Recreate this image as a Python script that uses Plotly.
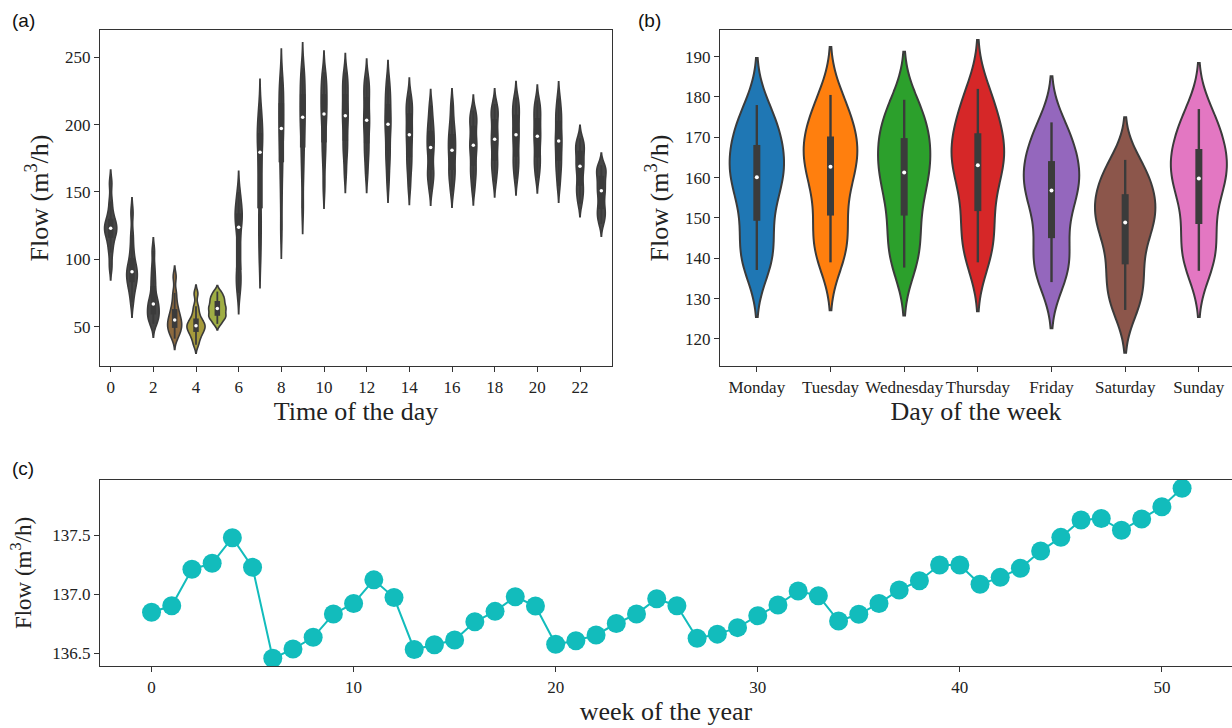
import numpy as np
import plotly.graph_objects as go

# ---------------- data ----------------
hours = list(range(24))
# 13 quantile-like flow values per hour (min ... q1 ... median ... q3 ... max)
hour_samples = [
    [94.5, 105, 111, 116, 119, 121, 123, 125, 127, 130, 135, 143, 156.5],
    [68, 76, 80, 83, 86, 88.5, 90.7, 93, 96, 101, 108, 118, 134.5],
    [52, 55, 57, 59, 62, 64.5, 66.7, 69, 73, 80, 86, 94, 106],
    [41, 45, 47, 49, 51, 53, 54.8, 57, 60, 63, 68, 75, 87],
    [36.5, 41, 44, 46, 48, 49.5, 50.6, 52, 54, 56, 60, 65, 74.5],
    [52, 55, 57, 58, 60, 62, 63.5, 65, 67, 69, 71, 73, 76],
    [75, 82, 87, 92, 103, 115, 123.7, 128, 131, 134, 138, 143, 150],
    [101, 115, 127, 137.8, 155, 170, 179.4, 184, 189, 193.8, 198, 204, 211.5],
    [121.5, 145, 162, 172, 183, 191, 197.2, 203, 209, 216, 222, 228, 235.5],
    [138, 160, 174, 183, 193, 200, 205.4, 211, 217, 222.7, 229, 235, 242],
    [153.6, 170, 181, 186.8, 196, 203, 207.9, 213, 218, 222.7, 228, 233, 239],
    [163.8, 176, 183, 188, 196, 202, 206.6, 211, 217, 222.7, 228, 233, 238.7],
    [163.3, 174, 181, 186.1, 194, 199, 203.2, 208, 214, 220.3, 225, 230, 235.1],
    [156.6, 168, 176, 181.1, 189, 195, 200.2, 204, 209, 215.3, 220, 226, 233.4],
    [153.7, 164, 171, 175.7, 182, 188, 192.5, 197, 202, 208.4, 212, 216, 221.7],
    [151.9, 159, 163, 166.3, 173, 179, 183.1, 187, 191, 195.5, 200, 206, 214.4],
    [150.4, 158, 163, 166.3, 172, 177, 180.9, 185, 189, 193, 198, 205, 214.9],
    [151.8, 160, 165, 169.5, 176, 181, 184.6, 188, 193, 199.2, 203, 206, 210.5],
    [157.6, 165, 170, 173.2, 180, 185, 189.1, 193, 198, 204.2, 208, 211, 215.3],
    [159.7, 167, 172, 176.2, 183, 188, 192.5, 197, 202, 207.4, 211, 215, 220.2],
    [160.5, 167, 172, 175.7, 182, 187, 191.3, 195, 200, 204.9, 209, 213, 218.1],
    [154.5, 163, 169, 173.2, 179, 184, 187.8, 192, 197, 202.9, 207, 212, 219.6],
    [141.2, 147, 151, 154.6, 160, 165, 169, 172, 176, 180.6, 183, 186, 189.9],
    [126.2, 131, 134, 137.3, 142, 147, 150.9, 154, 158, 162, 165, 167.5, 169.9],
]
hour_tick_labels = [str(h) for h in range(0, 24, 2)]

days = ["Monday", "Tuesday", "Wednesday", "Thursday", "Friday", "Saturday", "Sunday"]
day_samples = [
    [137.1, 140.5, 144.5, 149.3, 154.5, 158, 160.1, 162.5, 165, 168.1, 170.5, 173.5, 178],
    [139, 142.5, 146.5, 150.6, 156, 160, 162.7, 165, 167.5, 170.2, 172.5, 176, 180.5],
    [137.7, 141.5, 146, 150.6, 155.5, 159, 161.3, 164, 167, 169.8, 172, 175.5, 179.3],
    [139, 143, 147.5, 151.7, 157, 161, 163.1, 165.5, 168, 171, 173.5, 177.5, 182],
    [134.1, 137.5, 141, 145, 150.5, 154.5, 156.8, 159, 161.5, 164.1, 166.5, 170, 173.7],
    [127.2, 131, 135, 138.5, 143.5, 147, 148.9, 151, 153.5, 155.9, 158, 161, 164.4],
    [136.9, 140.5, 144.5, 148.5, 154, 157.5, 159.8, 162, 164.5, 167.1, 169.5, 173, 177],
]

weeks = list(range(52))
week_flow = [
    136.845, 136.90, 137.21, 137.26, 137.477, 137.226, 136.455, 136.534, 136.633, 136.83,
    136.92, 137.12, 136.97, 136.53, 136.57, 136.61, 136.765, 136.853, 136.977, 136.898,
    136.574, 136.604, 136.653, 136.75, 136.83, 136.96, 136.90, 136.625, 136.66, 136.715,
    136.816, 136.907, 137.025, 136.986, 136.771, 136.828, 136.92, 137.034, 137.113, 137.246,
    137.246, 137.082, 137.141, 137.218, 137.364, 137.48, 137.627, 137.64, 137.54, 137.636,
    137.74, 137.896,
]

N_DAYS_PER_HOUR = 365   # observations behind each hourly violin
N_WEEKS_PER_DAY = 52    # observations behind each weekday violin

# ---------------- helpers ----------------
DARK = "#3b3b3b"
SERIF = "Liberation Serif"


def box_stats(s):
    s = np.sort(np.asarray(s, float))
    q1, med, q3 = np.percentile(s, [25, 50, 75])
    iqr = q3 - q1
    lo = s[s >= q1 - 1.5 * iqr].min()
    hi = s[s <= q3 + 1.5 * iqr].max()
    return lo, q1, med, q3, hi


def scott_bw(s, n):
    return float(np.std(s, ddof=1) * n ** -0.2)


def kde_peak(s, bw):
    s = np.asarray(s, float)
    g = np.linspace(s.min() - 3 * bw, s.max() + 3 * bw, 800)
    d = np.exp(-0.5 * ((g[:, None] - s[None, :]) / bw) ** 2).sum(1)
    return float(d.max() / (len(s) * bw * np.sqrt(2 * np.pi)))


def area_widths(samples, n, full=0.8):
    # seaborn-like "area" scaling: widest density gets the full width
    peaks = [kde_peak(s, scott_bw(s, n)) for s in samples]
    m = max(peaks)
    return [full * p / m for p in peaks]


# fills of the hourly violins: almost all hidden under the dark outline,
# only the widest ones (3-5 h) show some colour
hour_colors = ["#474747"] * 24
hour_colors[3] = "#8d6a3f"
hour_colors[4] = "#a59a3c"
hour_colors[5] = "#9fae45"
day_colors = ["#1f77b4", "#ff7f0e", "#2ca02c", "#d62728", "#9467bd", "#8c564b", "#e377c2"]

fig = go.Figure()


def add_inner(xs, samples, xa, ya, whisk_w, box_w, dot_size):
    wx, wy, bx, by, mx, my = [], [], [], [], [], []
    for x, s in zip(xs, samples):
        lo, q1, med, q3, hi = box_stats(s)
        wx += [x, x, None]
        wy += [lo, hi, None]
        bx += [x, x, None]
        by += [q1, q3, None]
        mx.append(x)
        my.append(med)
    fig.add_trace(go.Scatter(x=wx, y=wy, mode="lines", line=dict(color=DARK, width=whisk_w),
                             xaxis=xa, yaxis=ya, hoverinfo="skip", showlegend=False))
    fig.add_trace(go.Scatter(x=bx, y=by, mode="lines", line=dict(color=DARK, width=box_w),
                             xaxis=xa, yaxis=ya, hoverinfo="skip", showlegend=False))
    fig.add_trace(go.Scatter(x=mx, y=my, mode="markers",
                             marker=dict(color="white", size=dot_size, line=dict(width=0)),
                             xaxis=xa, yaxis=ya, hoverinfo="skip", showlegend=False))


# ---------------- (a) hour of day ----------------
hour_widths = area_widths(hour_samples, N_DAYS_PER_HOUR, 0.85)
for h, s, c, w in zip(hours, hour_samples, hour_colors, hour_widths):
    fig.add_trace(go.Violin(
        x0=h, y=s, xaxis="x", yaxis="y", width=w, scalemode="width",
        bandwidth=scott_bw(s, N_DAYS_PER_HOUR), spanmode="soft", points=False,
        fillcolor=c, line=dict(color=DARK, width=1.6), opacity=1,
        showlegend=False, hoverinfo="skip"))
add_inner(hours, hour_samples, "x", "y", 1.8, 5.5, 3.5)

# ---------------- (b) day of week ----------------
day_widths = area_widths(day_samples, N_WEEKS_PER_DAY, 0.82)
for d, s, c, w in zip(days, day_samples, day_colors, day_widths):
    fig.add_trace(go.Violin(
        x=[d] * len(s), y=s, xaxis="x2", yaxis="y2", width=w,
        scalemode="width", bandwidth=scott_bw(s, N_WEEKS_PER_DAY), spanmode="soft",
        points=False, fillcolor=c, line=dict(color=DARK, width=2), opacity=1,
        showlegend=False, hoverinfo="skip"))
add_inner(days, day_samples, "x2", "y2", 2.4, 7, 4)

# ---------------- (c) week of year ----------------
fig.add_trace(go.Scatter(
    x=weeks, y=week_flow, xaxis="x3", yaxis="y3", mode="lines+markers",
    line=dict(color="#12bcbc", width=2), marker=dict(color="#12bcbc", size=19),
    showlegend=False, hoverinfo="skip"))

# ---------------- layout ----------------
W, H = 1232, 728
axis_common = dict(showline=True, linecolor="#333333", linewidth=1.3, ticks="outside",
                   ticklen=5, tickwidth=1.3, tickcolor="#333333", showgrid=False,
                   zeroline=False, tickfont=dict(family=SERIF, size=17, color="#222222"))
ylab = "Flow (m<sup>3</sup>/h)"

fig.update_layout(
    width=W, height=H, margin=dict(l=0, r=0, t=0, b=0),
    paper_bgcolor="white", plot_bgcolor="white", violinmode="overlay", showlegend=False,
    font=dict(family=SERIF, color="#222222"),
    xaxis=dict(axis_common, domain=[100 / W, 612 / W], range=[-0.5, 23.5], type="linear",
               tickvals=list(range(0, 24, 2)), ticktext=hour_tick_labels, mirror=True, anchor="y",
               title=dict(text="Time of the day", font=dict(family=SERIF, size=26), standoff=6)),
    yaxis=dict(axis_common, domain=[1 - 366 / H, 1 - 30 / H], range=[20.7, 270.3],
               tickvals=[50, 100, 150, 200, 250], mirror=True, anchor="x",
               title=dict(text=ylab, font=dict(family=SERIF, size=26), standoff=8)),
    xaxis2=dict(axis_common, domain=[720 / W, 1.0], range=[-0.5, 6.45], type="category",
                categoryorder="array", categoryarray=days, mirror=True, anchor="y2",
                title=dict(text="Day of the week", font=dict(family=SERIF, size=26), standoff=6)),
    yaxis2=dict(axis_common, domain=[1 - 366 / H, 1 - 30 / H], range=[113.3, 196.6],
                tickvals=list(range(120, 200, 10)), mirror=False, anchor="x2",
                title=dict(text=ylab, font=dict(family=SERIF, size=26), standoff=8)),
    xaxis3=dict(axis_common, domain=[100 / W, 1.0], range=[-2.55, 53.47],
                tickvals=list(range(0, 60, 10)), mirror=True, anchor="y3",
                title=dict(text="week of the year", font=dict(family=SERIF, size=26), standoff=6)),
    yaxis3=dict(axis_common, domain=[1 - 666 / H, 1 - 480 / H], range=[136.39, 137.966],
                tickvals=[136.5, 137.0, 137.5], tickformat=".1f", mirror=False, anchor="x3",
                title=dict(text=ylab, font=dict(family=SERIF, size=23), standoff=14)),
)

for lab, px, py in [("(a)", 10, 20), ("(b)", 636, 20), ("(c)", 10, 468)]:
    fig.add_annotation(text=lab, xref="paper", yref="paper", x=px / W, y=1 - py / H,
                       xanchor="left", yanchor="middle", showarrow=False,
                       font=dict(family="Liberation Sans", size=19, color="#111111"))

fig.write_html("out.html")
